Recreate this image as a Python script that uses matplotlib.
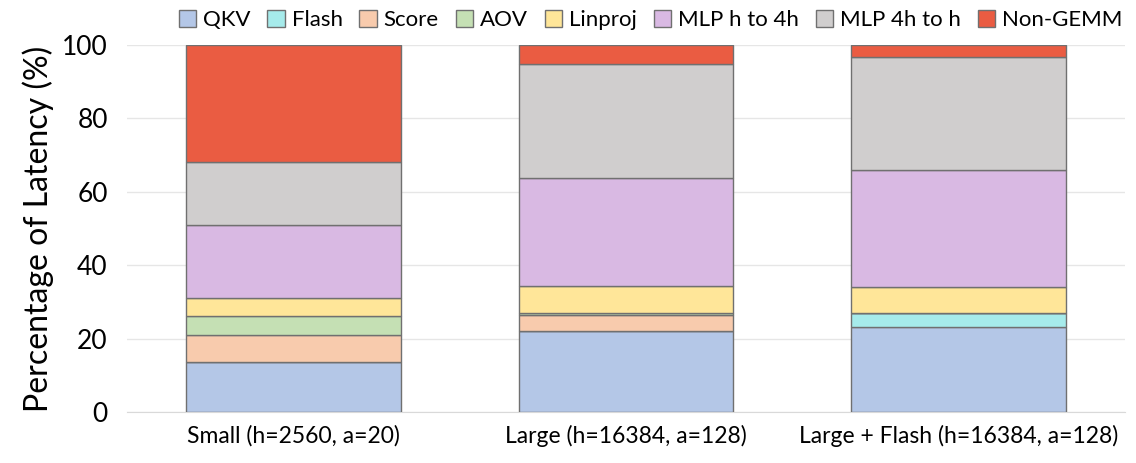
import numpy as np
import matplotlib.pyplot as plt

# configurations and latency breakdown (%)
configs = ["Small (h=2560, a=20)", "Large (h=16384, a=128)", "Large + Flash (h=16384, a=128)"]
parts = ["QKV", "Flash", "Score", "AOV", "Linproj", "MLP h to 4h", "MLP 4h to h", "Non-GEMM"]
qkv = [13.6, 22.2, 23.1]
flash = [0.0, 0.0, 3.8]
score = [7.4, 4.2, 0.0]
aov = [5.2, 0.7, 0.0]
linproj = [4.9, 7.2, 7.2]
mlp_h_4h = [19.9, 29.5, 31.8]
mlp_4h_h = [17.1, 31.0, 30.8]
non_gemm = [31.9, 5.2, 3.3]

colors = ["#b4c7e7", "#a6ebeb", "#f8cbad", "#c5e0b4", "#ffe699", "#d9b9e3", "#d0cece", "#ea5c42"]

plt.rcParams['font.family'] = ['Lato', 'DejaVu Sans']

fig, ax = plt.subplots(figsize=(11.36, 4.63), dpi=100)
fig.subplots_adjust(left=0.112, right=0.99, top=0.903, bottom=0.11)

series = [qkv, flash, score, aov, linproj, mlp_h_4h, mlp_4h_h, non_gemm]
x = np.arange(len(configs))
bottom = np.zeros(len(configs))
for name, vals, col in zip(parts, series, colors):
	vals = np.array(vals)
	ax.bar(x, vals, 0.645, bottom=bottom, color=col, edgecolor="#707070", linewidth=1, label=name, zorder=3)
	bottom += vals

ax.set_xlim(-0.5, 2.5)
ax.set_ylim(0, 100)
ax.set_yticks([0, 20, 40, 60, 80, 100])
ax.tick_params(axis='y', labelsize=19, length=0, pad=14)
ax.tick_params(axis='x', labelsize=16.5, length=0, pad=9)
ax.set_xticks(x)
ax.set_xticklabels(configs)
ax.set_ylabel("Percentage of Latency (%)", fontsize=23, labelpad=6)

ax.grid(axis='y', color="#e6e6e6", linewidth=1, zorder=0)
for s in ["top", "right", "left"]:
	ax.spines[s].set_visible(False)
ax.spines["bottom"].set_color("#d9d9d9")

leg = ax.legend(loc="lower right", bbox_to_anchor=(1.0, 1.035), ncol=8, frameon=False,
	fontsize=16, handlelength=0.8, handleheight=0.8, handletextpad=0.3, columnspacing=0.75,
	borderaxespad=0, borderpad=0.1)

plt.savefig("out.png")
